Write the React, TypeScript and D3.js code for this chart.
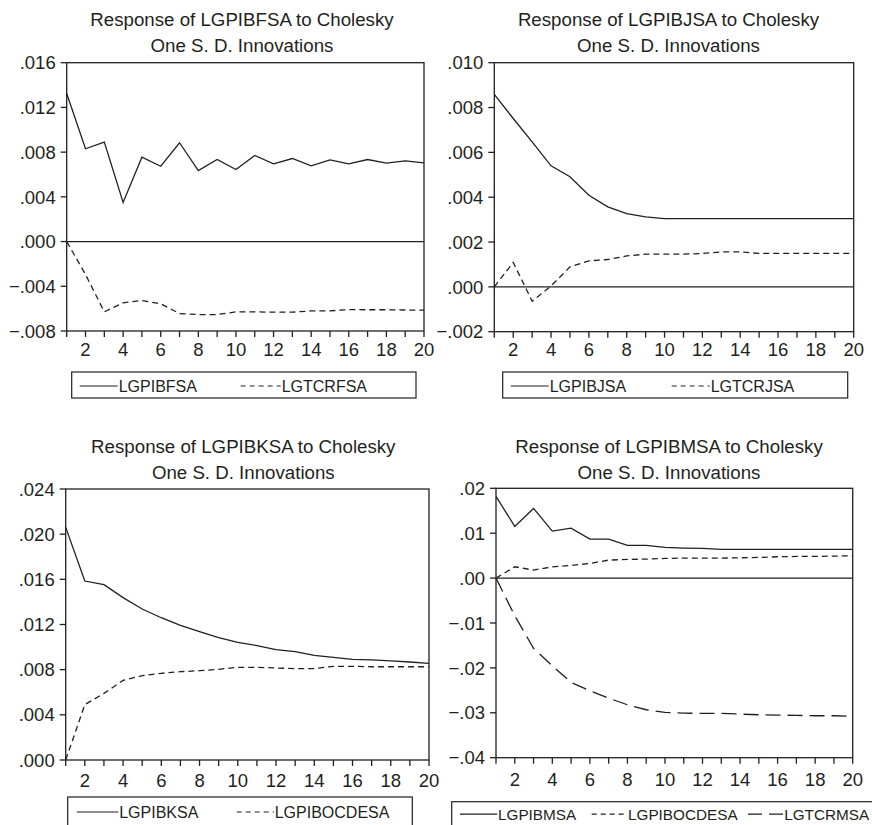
import * as d3 from 'd3';
import React from 'react';

// horizon (periods) and x tick labels
const periods = [1, 2, 3, 4, 5, 6, 7, 8, 9, 10, 11, 12, 13, 14, 15, 16, 17, 18, 19, 20];
const xLabels = [2, 4, 6, 8, 10, 12, 14, 16, 18, 20];

// response of LGPIBFSA
const fsaOwn = [0.01324, 0.0083, 0.0089, 0.0035, 0.00755, 0.00674, 0.00884, 0.00635, 0.00734, 0.00644, 0.0077, 0.00695, 0.00743, 0.00677, 0.00731, 0.00695, 0.00734, 0.00701, 0.00722, 0.00704];
const fsaTcr = [0, -0.00294, -0.00629, -0.00548, -0.00527, -0.00557, -0.00644, -0.00653, -0.00653, -0.00629, -0.00629, -0.00632, -0.00632, -0.0062, -0.0062, -0.00608, -0.0061, -0.0061, -0.00612, -0.00614];
const fsaTicks = [-0.008, -0.004, 0, 0.004, 0.008, 0.012, 0.016];

// response of LGPIBJSA
const jsaOwn = [0.00859, 0.00751, 0.00647, 0.0054, 0.00491, 0.00409, 0.00357, 0.00327, 0.00312, 0.00304, 0.00304, 0.00304, 0.00304, 0.00304, 0.00304, 0.00304, 0.00304, 0.00304, 0.00304, 0.00304];
const jsaTcr = [0, 0.00109, -0.00064, 0.00004, 0.00089, 0.00116, 0.00122, 0.00138, 0.00146, 0.00146, 0.00146, 0.00149, 0.00156, 0.00156, 0.00149, 0.00149, 0.00149, 0.00149, 0.00149, 0.00149];
const jsaTicks = [-0.002, 0, 0.002, 0.004, 0.006, 0.008, 0.01];

// response of LGPIBKSA
const ksaOwn = [0.0206, 0.01585, 0.01553, 0.01438, 0.01337, 0.0126, 0.01193, 0.01137, 0.01083, 0.01042, 0.01013, 0.00977, 0.0096, 0.00927, 0.00909, 0.00892, 0.00886, 0.00877, 0.00868, 0.00856];
const ksaOcde = [0, 0.0049, 0.0059, 0.00705, 0.00747, 0.00768, 0.00782, 0.00791, 0.00803, 0.00821, 0.00821, 0.00815, 0.00809, 0.00809, 0.0083, 0.0083, 0.00826, 0.00826, 0.00826, 0.00826];
const ksaTicks = [0, 0.004, 0.008, 0.012, 0.016, 0.02, 0.024];

// response of LGPIBMSA
const msaOwn = [0.0182, 0.0115, 0.01552, 0.01047, 0.01114, 0.00869, 0.00869, 0.00728, 0.00728, 0.00683, 0.00668, 0.00661, 0.00638, 0.00638, 0.00638, 0.00638, 0.00638, 0.00638, 0.00638, 0.00638];
const msaOcde = [0, 0.00252, 0.00178, 0.00252, 0.00282, 0.00327, 0.00401, 0.00416, 0.00423, 0.00438, 0.00445, 0.00445, 0.00445, 0.00453, 0.0046, 0.00475, 0.00482, 0.00482, 0.0049, 0.00497];
const msaTcr = [0, -0.00839, -0.01566, -0.01953, -0.02324, -0.02509, -0.02673, -0.02821, -0.02932, -0.02992, -0.03007, -0.03014, -0.03014, -0.03029, -0.03044, -0.03051, -0.03058, -0.03066, -0.03066, -0.03081];
const msaTicks = [-0.04, -0.03, -0.02, -0.01, 0, 0.01, 0.02];

const INK = '#231f20';
const FONT = '"Liberation Sans", Arial, sans-serif';

const SOLID = '';
const DASH = '6,4';
const LONGDASH = '15,7';

function fmtTick(v, dec) {
  const s = d3.format('.' + dec + 'f')(Math.abs(v)).replace(/^0/, '');
  return (v < -1e-12 ? '\u2212' : '') + s;
}

function Panel({ name, series, ticks, dec, box, titleX, titleY, labelGap, legend }) {
  const [left, right, top, bottom] = box;
  const x = d3.scaleLinear().domain([1, 20]).range([left, right]);
  const y = d3.scaleLinear().domain(d3.extent(ticks)).range([bottom, top]);
  const line = d3.line().x((d, i) => x(periods[i])).y(d => y(d));
  const [lx, ly, lw, lh] = legend.box;

  return (
    <g fontFamily={FONT} fill={INK}>
      <text x={titleX} y={titleY} textAnchor="middle" fontSize={18.7}>{'Response of ' + name + ' to Cholesky'}</text>
      <text x={titleX} y={titleY + 25.5} textAnchor="middle" fontSize={18.7}>One S. D. Innovations</text>

      <rect x={left} y={top} width={right - left} height={bottom - top} fill="none" stroke={INK} strokeWidth={1.3} />
      {y.domain()[0] < 0 && (
        <line x1={left} x2={right} y1={y(0)} y2={y(0)} stroke={INK} strokeWidth={1.3} />
      )}

      {ticks.map(t => (
        <g key={t}>
          <line x1={left - 6} x2={left} y1={y(t)} y2={y(t)} stroke={INK} strokeWidth={1.3} />
          <text x={left - 11} y={y(t)} dy="0.36em" textAnchor="end" fontSize={18.5}>{fmtTick(t, dec)}</text>
        </g>
      ))}

      {periods.map(p => (
        <line key={p} x1={x(p)} x2={x(p)} y1={bottom} y2={bottom + 6} stroke={INK} strokeWidth={1.3} />
      ))}
      {xLabels.map(p => (
        <text key={p} x={x(p)} y={bottom + labelGap} textAnchor="middle" fontSize={18.5}>{p}</text>
      ))}

      {series.map(s => (
        <path key={s.label} d={line(s.values)} fill="none" stroke={INK} strokeWidth={1.3} strokeDasharray={s.dash || undefined} />
      ))}

      <rect x={lx} y={ly} width={lw} height={lh} fill="#fff" stroke={INK} strokeWidth={1.2} />
      {series.map((s, i) => {
        const [a, b, t] = legend.items[i];
        return (
          <g key={s.label}>
            <line x1={lx + a} x2={lx + b} y1={ly + legend.base - 6} y2={ly + legend.base - 6} stroke={INK} strokeWidth={1.2}
              strokeDasharray={s.legendDash || undefined} />
            <text x={lx + t} y={ly + legend.base} fontSize={legend.size}>{s.label}</text>
          </g>
        );
      })}
    </g>
  );
}

export default function App() {
  return (
    <svg width={872} height={825} style={{ position: 'absolute', left: 0, top: 0, background: '#fff' }}>
      <rect width={872} height={825} fill="#fff" />
      <Panel
        name="LGPIBFSA"
        series={[
          { label: 'LGPIBFSA', values: fsaOwn, dash: SOLID, legendDash: SOLID },
          { label: 'LGTCRFSA', values: fsaTcr, dash: DASH, legendDash: '5,4' },
        ]}
        ticks={fsaTicks}
        dec={3}
        box={[66.7, 424, 62.7, 331]}
        titleX={242}
        titleY={26}
        labelGap={24.5}
        legend={{ box: [71.7, 372, 344.3, 26], base: 20, size: 16, items: [[8, 46, 47], [169, 209, 210]] }}
      />
      <Panel
        name="LGPIBJSA"
        series={[
          { label: 'LGPIBJSA', values: jsaOwn, dash: SOLID, legendDash: SOLID },
          { label: 'LGTCRJSA', values: jsaTcr, dash: DASH, legendDash: '5,4' },
        ]}
        ticks={jsaTicks}
        dec={3}
        box={[494.3, 853.7, 62.7, 331.7]}
        titleX={668.5}
        titleY={26}
        labelGap={24.5}
        legend={{ box: [502.7, 372, 345, 26], base: 20, size: 16, items: [[8, 46, 47], [169, 207, 208]] }}
      />
      <Panel
        name="LGPIBKSA"
        series={[
          { label: 'LGPIBKSA', values: ksaOwn, dash: SOLID, legendDash: SOLID },
          { label: 'LGPIBOCDESA', values: ksaOcde, dash: DASH, legendDash: '5,4' },
        ]}
        ticks={ksaTicks}
        dec={3}
        box={[65.7, 429, 489, 760]}
        titleX={243.3}
        titleY={453.3}
        labelGap={26.5}
        legend={{ box: [67.7, 797, 344.6, 34], base: 21, size: 16, items: [[9, 50.6, 51.5], [169, 206.3, 207]] }}
      />
      <Panel
        name="LGPIBMSA"
        series={[
          { label: 'LGPIBMSA', values: msaOwn, dash: SOLID, legendDash: SOLID },
          { label: 'LGPIBOCDESA', values: msaOcde, dash: DASH, legendDash: '5,4' },
          { label: 'LGTCRMSA', values: msaTcr, dash: LONGDASH, legendDash: '14,7' },
        ]}
        ticks={msaTicks}
        dec={2}
        box={[496, 852.7, 488.3, 757.7]}
        titleX={669}
        titleY={453.3}
        labelGap={28.5}
        legend={{ box: [451.7, 801.7, 430, 34], base: 18.5, size: 15.3, items: [[8.3, 45.5, 46.3], [140, 175.5, 176.3], [296.3, 331.5, 332.5]] }}
      />
    </svg>
  );
}
